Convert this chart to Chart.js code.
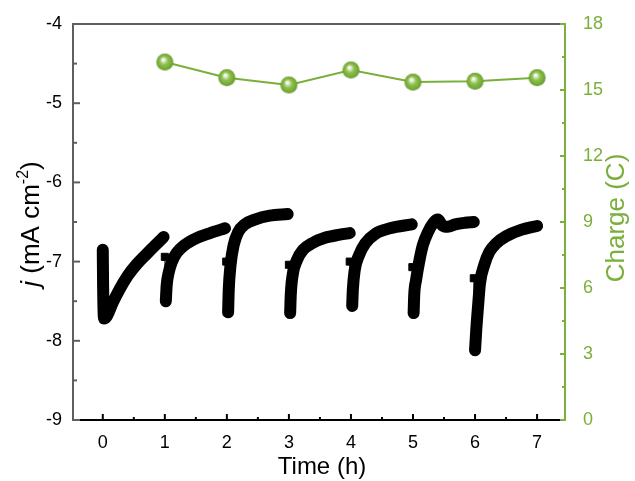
<!DOCTYPE html>
<html>
<head>
<meta charset="utf-8">
<script src="https://cdn.jsdelivr.net/npm/chart.js@4"></script>
<style>
  html, body { margin: 0; padding: 0; background: #fff; }
  canvas { display: block; }
</style>
</head>
<body>
<canvas id="myChart" width="635" height="481"></canvas>
<script>
// tick labels
var xTicks = [0, 1, 2, 3, 4, 5, 6, 7];
var jTicks = [-9, -8, -7, -6, -5, -4];
var chargeTicks = [0, 3, 6, 9, 12, 15, 18];

// charge per cycle (right axis)
var chargeTime = [1, 2, 3, 4, 5, 6, 7];
var chargeValues = [16.27, 15.56, 15.23, 15.91, 15.36, 15.40, 15.56];

// first point of each cycle (the small squares)
var startTime = [1.0, 1.99, 3.0, 3.98, 4.99, 5.98];
var startJ = [-6.94, -7.0, -7.04, -7.0, -7.07, -7.21];

// current density, one cycle per hour
var timeSeg0 = [0, 0.005, 0.02, 0.065, 0.16, 0.27, 0.40, 0.55, 0.71, 0.85, 0.98];
var jSeg0 = [-6.85, -7.3, -7.72, -7.69, -7.52, -7.35, -7.18, -7.03, -6.90, -6.79, -6.69];
var timeSeg1 = [1.016, 1.03, 1.065, 1.11, 1.19, 1.32, 1.52, 1.73, 1.97];
var jSeg1 = [-7.50, -7.30, -7.13, -7.01, -6.89, -6.79, -6.70, -6.64, -6.58];
var timeSeg2 = [2.02, 2.03, 2.06, 2.11, 2.18, 2.29, 2.45, 2.69, 2.98];
var jSeg2 = [-7.64, -7.36, -7.04, -6.79, -6.63, -6.53, -6.47, -6.42, -6.40];
var timeSeg3 = [3.02, 3.03, 3.06, 3.13, 3.23, 3.37, 3.58, 3.82, 3.98];
var jSeg3 = [-7.65, -7.42, -7.17, -6.98, -6.85, -6.77, -6.70, -6.66, -6.64];
var timeSeg4 = [4.02, 4.03, 4.06, 4.13, 4.23, 4.39, 4.63, 4.98];
var jSeg4 = [-7.56, -7.36, -7.11, -6.92, -6.77, -6.65, -6.58, -6.53];
var timeSeg5 = [5.01, 5.02, 5.05, 5.10, 5.16, 5.24, 5.33, 5.40, 5.47, 5.56, 5.68, 5.84, 5.98];
var jSeg5 = [-7.65, -7.42, -7.23, -7.0, -6.79, -6.63, -6.51, -6.47, -6.54, -6.56, -6.53, -6.51, -6.50];
var timeSeg6 = [6.0, 6.02, 6.05, 6.08, 6.15, 6.23, 6.34, 6.5, 6.74, 7.0];
var jSeg6 = [-8.12, -7.86, -7.55, -7.27, -7.04, -6.88, -6.77, -6.68, -6.60, -6.55];

var GREEN = '#7aaf3a';
var FONT = 'Arial, "Liberation Sans", sans-serif';

var segTimes = [timeSeg0, timeSeg1, timeSeg2, timeSeg3, timeSeg4, timeSeg5, timeSeg6];
var segJs = [jSeg0, jSeg1, jSeg2, jSeg3, jSeg4, jSeg5, jSeg6];

function pairs(xs, ys) {
    return xs.map(function (x, i) { return { x: x, y: ys[i] }; });
}

// shaded ball used as the charge marker
function makeBall(r) {
    var c = document.createElement('canvas');
    c.width = c.height = r * 2 + 2;
    var g = c.getContext('2d');
    var cx = r + 1, cy = r + 1;
    var grad = g.createRadialGradient(cx - r * 0.2, cy - r * 0.3, 0.5, cx, cy, r);
    grad.addColorStop(0, '#ffffff');
    grad.addColorStop(0.18, '#d9e9c4');
    grad.addColorStop(0.45, '#8fc04f');
    grad.addColorStop(0.85, '#74aa34');
    grad.addColorStop(1, '#5f8f28');
    g.fillStyle = grad;
    g.beginPath();
    g.arc(cx, cy, r, 0, Math.PI * 2);
    g.fill();
    return c;
}

var datasets = [];

datasets.push({
    label: 'Charge',
    data: pairs(chargeTime, chargeValues),
    yAxisID: 'y1',
    borderColor: GREEN,
    borderWidth: 2,
    pointStyle: makeBall(8.5),
    pointRadius: 9,
    order: 0
});

segTimes.forEach(function (t, k) {
    datasets.push({
        label: 'j' + k,
        data: pairs(t, segJs[k]),
        yAxisID: 'y',
        borderColor: '#000',
        borderWidth: 12,
        borderCapStyle: 'round',
        borderJoinStyle: 'round',
        pointRadius: 0,
        cubicInterpolationMode: 'monotone',
        order: 1
    });
});

startTime.forEach(function (t, k) {
    var seg = k + 1;
    datasets.push({
        label: 'start' + seg,
        data: [{ x: t, y: startJ[k] }, { x: segTimes[seg][0], y: segJs[seg][0] }],
        yAxisID: 'y',
        borderColor: '#000',
        backgroundColor: '#000',
        borderWidth: 1,
        pointStyle: 'rect',
        pointRadius: [5, 0],
        order: 2
    });
});

// inward ticks, top frame and axis titles
var framePlugin = {
    id: 'framePlugin',
    afterDraw: function (chart) {
        var ctx = chart.ctx;
        var a = chart.chartArea;
        var sx = chart.scales.x, sy = chart.scales.y, sr = chart.scales.y1;
        ctx.save();

        ctx.strokeStyle = '#5f5f5f';
        ctx.lineWidth = 2;
        ctx.beginPath();
        ctx.moveTo(a.left - 1, a.top);
        ctx.lineTo(a.right, a.top);
        ctx.stroke();

        function tick(x1, y1, x2, y2, color) {
            ctx.strokeStyle = color;
            ctx.beginPath();
            ctx.moveTo(x1, y1);
            ctx.lineTo(x2, y2);
            ctx.stroke();
        }

        xTicks.forEach(function (v) {
            var p = sx.getPixelForValue(v);
            tick(p, a.bottom, p, a.bottom - 6, '#000');
            if (v + 0.5 < sx.max) {
                var q = sx.getPixelForValue(v + 0.5);
                tick(q, a.bottom, q, a.bottom - 3, '#000');
            }
        });
        jTicks.forEach(function (v) {
            var p = sy.getPixelForValue(v);
            tick(a.left, p, a.left + 7, p, '#5f5f5f');
            if (v + 0.5 < sy.max) {
                var q = sy.getPixelForValue(v + 0.5);
                tick(a.left, q, a.left + 4, q, '#5f5f5f');
            }
        });
        chargeTicks.forEach(function (v) {
            var p = sr.getPixelForValue(v);
            tick(a.right, p, a.right - 5, p, GREEN);
            if (v + 1.5 < sr.max) {
                var q = sr.getPixelForValue(v + 1.5);
                tick(a.right, q, a.right - 3, q, GREEN);
            }
        });

        // x title
        ctx.fillStyle = '#000';
        ctx.font = '24px ' + FONT;
        ctx.textAlign = 'center';
        ctx.textBaseline = 'alphabetic';
        ctx.fillText('Time (h)', 322, 474);

        // right title
        ctx.save();
        ctx.font = '26px ' + FONT;
        ctx.translate(624, 218);
        ctx.rotate(-Math.PI / 2);
        ctx.fillStyle = GREEN;
        ctx.fillText('Charge (C)', 0, 0);
        ctx.restore();

        // left title with italic j and superscript
        var parts = [
            { s: 'j', f: 'italic 26px ' + FONT, dy: 0 },
            { s: ' (mA cm', f: '26px ' + FONT, dy: 0 },
            { s: '-2', f: '16px ' + FONT, dy: -11 },
            { s: ')', f: '26px ' + FONT, dy: 0 }
        ];
        var total = 0;
        parts.forEach(function (p) { ctx.font = p.f; p.w = ctx.measureText(p.s).width; total += p.w; });
        ctx.save();
        ctx.translate(39, 224);
        ctx.rotate(-Math.PI / 2);
        ctx.textAlign = 'left';
        ctx.fillStyle = '#000';
        var x = -total / 2;
        parts.forEach(function (p) {
            ctx.font = p.f;
            ctx.fillText(p.s, x, p.dy);
            x += p.w;
        });
        ctx.restore();

        ctx.restore();
    }
};

var ctx = document.getElementById('myChart').getContext('2d');
var myChart = new Chart(ctx, {
    type: 'line',
    data: { datasets: datasets },
    options: {
        responsive: false,
        animation: false,
        layout: { padding: { top: 24, left: 0, right: 0, bottom: 0 } },
        plugins: {
            legend: { display: false },
            tooltip: { enabled: false }
        },
        scales: {
            x: {
                type: 'linear',
                position: 'bottom',
                min: -0.48,
                max: 7.45,
                afterFit: function (s) { s.height = 61; },
                afterBuildTicks: function (s) { s.ticks = xTicks.map(function (v) { return { value: v }; }); },
                grid: { display: false },
                border: { display: true, color: '#000', width: 2 },
                ticks: { color: '#000', font: { family: FONT, size: 18 }, padding: 4, maxRotation: 0 }
            },
            y: {
                type: 'linear',
                position: 'left',
                min: -9,
                max: -4,
                afterFit: function (s) { s.width = 73; },
                afterBuildTicks: function (s) { s.ticks = jTicks.map(function (v) { return { value: v }; }); },
                grid: { display: false },
                border: { display: true, color: '#5f5f5f', width: 2 },
                ticks: { color: '#000', font: { family: FONT, size: 18 }, padding: 3 }
            },
            y1: {
                type: 'linear',
                position: 'right',
                min: 0,
                max: 18,
                afterFit: function (s) { s.width = 70; },
                afterBuildTicks: function (s) { s.ticks = chargeTicks.map(function (v) { return { value: v }; }); },
                grid: { display: false },
                border: { display: true, color: GREEN, width: 2 },
                ticks: { color: GREEN, font: { family: FONT, size: 18 }, padding: 10 }
            }
        }
    },
    plugins: [framePlugin]
});
</script>
</body>
</html>
